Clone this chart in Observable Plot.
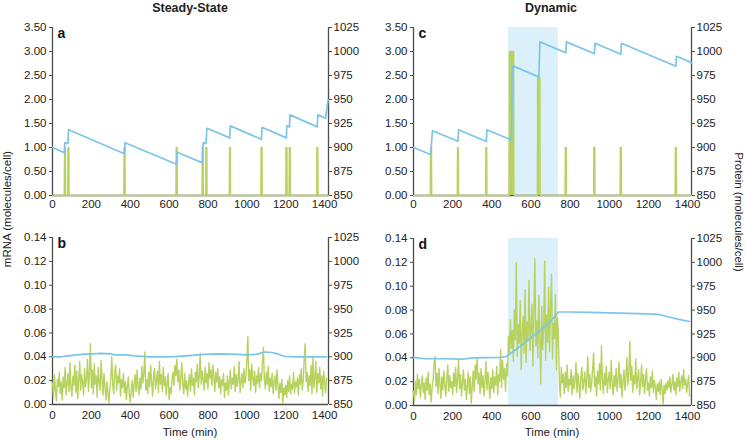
<!DOCTYPE html>
<html><head><meta charset="utf-8">
<script src="https://cdn.jsdelivr.net/npm/d3@7"></script>
<script src="https://cdn.jsdelivr.net/npm/@observablehq/plot@0.6"></script>
<style>
body{margin:0;background:#fff;}
#chart{position:relative;width:746px;height:440px;overflow:hidden;font-family:"Liberation Sans",Arial,sans-serif;color:#222;background:#fff;}
.pl{position:absolute;}
.lbl{position:absolute;white-space:nowrap;font-size:11.5px;transform:translate(-50%,-50%);}
.ttl{position:absolute;white-space:nowrap;font-weight:bold;font-size:12.5px;transform:translate(-50%,-50%);}
</style></head><body><div id="chart"></div>
<script>
// ---------- data ----------
const panelTitles = ["Steady-State", "Dynamic"];
const timeTicks = [0, 200, 400, 600, 800, 1000, 1200, 1400];
const mRNATicksTop = [0, 0.5, 1, 1.5, 2, 2.5, 3, 3.5];
const mRNATicksBottom = [0, 0.02, 0.04, 0.06, 0.08, 0.1, 0.12, 0.14];
const proteinTicks = [850, 875, 900, 925, 950, 975, 1000, 1025];
const inductionWindow = [485, 740];

// panel a: mRNA bursts (start, end, level) and protein
const burstOnA  = [61, 79, 368, 636, 770, 789, 910, 1073, 1201, 1218, 1360];
const burstOffA = [67, 85, 374, 642, 776, 795, 916, 1079, 1207, 1224, 1366];
const burstLvlA = [1, 1, 1, 1, 1, 1, 1, 1, 1, 1, 1];
const protTimeA = [0, 61, 63, 79, 83, 370, 373, 638, 641, 772, 775, 790, 794, 912, 915, 1075, 1078, 1203, 1206, 1219, 1222, 1362, 1365, 1405, 1418];
const protValA  = [900, 894.5, 905, 904, 918.5, 893.5, 905, 882.5, 895, 884, 905, 904, 920, 910, 922.5, 908.5, 921, 910, 922.5, 921.5, 934, 921.5, 934, 930.5, 950];

// panel c: mRNA bursts and protein
const burstOnC  = [86, 224, 369, 489, 633, 775, 921, 1056, 1337];
const burstOffC = [93, 230, 375, 513, 647, 781, 927, 1062, 1343];
const burstLvlC = [1, 1, 1, 3, 2.45, 1, 1, 1, 1];
const protTimeC = [0, 89, 91, 97, 227, 230, 372, 375, 500, 507, 640, 646, 778, 781, 924, 927, 1059, 1062, 1340, 1343, 1420];
const protValC  = [900, 892.5, 902.5, 917.5, 906.5, 918.5, 906.3, 918.5, 907.8, 985, 973.6, 1010, 998.7, 1010, 997.6, 1008.5, 997.2, 1008.5, 984.7, 995, 988.4];

// panels b, d: mRNA sampled every 5 min from 0 to 1410
const sampleStart = 0, sampleStep = 5;
const mRNAB = [
0.018,0.006,0.025,0.012,0.003,0.021,0.015,0.027,0.009,0.019,0.004,0.023,0.014,0.031,0.008,0.017,0.026,0.011,0.035,0.013,
0.007,0.024,0.016,0.033,0.010,0.028,0.005,0.020,0.036,0.012,0.025,0.018,0.008,0.030,0.015,0.022,0.038,0.011,0.027,0.051,
0.014,0.029,0.009,0.034,0.017,0.024,0.006,0.031,0.019,0.012,0.037,0.021,0.008,0.026,0.015,0.004,0.019,0.010,0.001,0.013,
0.022,0.040,0.016,0.009,0.027,0.033,0.012,0.024,0.018,0.030,0.007,0.021,0.014,0.026,0.010,0.019,0.004,0.015,0.023,0.008,
0.002,0.012,0.020,0.006,0.017,0.025,0.011,0.029,0.016,0.008,0.022,0.013,0.032,0.018,0.026,0.044,0.012,0.021,0.009,0.027,
0.015,0.033,0.019,0.007,0.024,0.030,0.013,0.020,0.028,0.010,0.036,0.017,0.025,0.011,0.031,0.016,0.023,0.008,0.019,0.026,
0.004,0.014,0.009,0.021,0.027,0.016,0.033,0.024,0.038,0.019,0.029,0.012,0.022,0.035,0.017,0.009,0.026,0.013,0.020,0.007,
0.018,0.025,0.011,0.030,0.016,0.022,0.008,0.027,0.019,0.034,0.014,0.024,0.043,0.017,0.028,0.021,0.012,0.031,0.018,0.026,
0.013,0.035,0.022,0.029,0.016,0.033,0.024,0.011,0.027,0.019,0.030,0.014,0.023,0.009,0.021,0.016,0.026,0.006,0.018,0.012,
0.024,0.008,0.019,0.029,0.013,0.022,0.017,0.032,0.011,0.025,0.015,0.021,0.036,0.010,0.019,0.026,0.014,0.030,0.018,0.023,
0.037,0.057,0.020,0.029,0.012,0.034,0.022,0.016,0.028,0.010,0.024,0.018,0.031,0.014,0.026,0.020,0.035,0.048,0.021,0.013,
0.027,0.017,0.032,0.011,0.022,0.015,0.026,0.009,0.019,0.024,0.012,0.029,0.016,0.005,0.018,0.010,0.021,0.001,0.014,0.008,
0.016,0.006,0.020,0.011,0.024,0.009,0.017,0.013,0.027,0.010,0.019,0.015,0.022,0.008,0.025,0.017,0.030,0.012,0.020,0.038,
0.051,0.019,0.027,0.011,0.024,0.016,0.033,0.009,0.040,0.014,0.022,0.036,0.010,0.026,0.018,0.031,0.013,0.024,0.007,0.028,
0.019,0.010,0.022];
const mRNAD = [
0.012,0.004,0.020,0.009,0.026,0.014,0.022,0.007,0.017,0.025,0.011,0.019,0.005,0.023,0.013,0.028,0.009,0.018,0.003,0.015,
0.021,0.036,0.041,0.016,0.027,0.010,0.031,0.018,0.006,0.024,0.013,0.029,0.017,0.008,0.022,0.034,0.012,0.025,0.015,0.020,
0.009,0.027,0.016,0.032,0.011,0.023,0.038,0.014,0.026,0.008,0.019,0.030,0.013,0.022,0.005,0.017,0.028,0.010,0.024,0.002,
0.016,0.029,0.012,0.034,0.022,0.040,0.018,0.027,0.010,0.031,0.015,0.025,0.008,0.021,0.037,0.013,0.028,0.019,0.006,0.023,
0.014,0.030,0.011,0.024,0.017,0.033,0.009,0.026,0.020,0.047,0.015,0.038,0.022,0.031,0.012,0.035,0.025,0.058,0.043,0.072,
0.048,0.063,0.037,0.080,0.055,0.120,0.041,0.068,0.052,0.088,0.030,0.061,0.075,0.044,0.097,0.036,0.070,0.054,0.105,0.046,
0.066,0.085,0.033,0.078,0.123,0.050,0.071,0.040,0.092,0.059,0.018,0.083,0.047,0.064,0.121,0.038,0.076,0.053,0.099,0.045,
0.082,0.110,0.039,0.069,0.056,0.093,0.030,0.074,0.061,0.020,0.007,0.032,0.019,0.026,0.010,0.028,0.015,0.034,0.012,0.022,
0.017,0.030,0.009,0.025,0.014,0.021,0.036,0.011,0.027,0.018,0.006,0.024,0.032,0.013,0.020,0.028,0.010,0.023,0.041,0.015,
0.026,0.012,0.019,0.031,0.044,0.016,0.024,0.008,0.029,0.018,0.035,0.013,0.050,0.022,0.010,0.027,0.017,0.033,0.011,0.021,
0.028,0.014,0.038,0.019,0.009,0.025,0.016,0.031,0.012,0.022,0.036,0.015,0.026,0.007,0.020,0.030,0.013,0.024,0.040,0.017,
0.027,0.054,0.021,0.033,0.011,0.025,0.018,0.039,0.014,0.023,0.030,0.009,0.020,0.034,0.016,0.026,0.010,0.022,0.031,0.013,
0.019,0.008,0.024,0.015,0.029,0.011,0.021,0.016,0.005,0.018,0.012,0.020,0.009,0.022,0.014,0.001,0.017,0.010,0.019,0.013,
0.021,0.015,0.024,0.011,0.018,0.026,0.013,0.020,0.009,0.023,0.016,0.028,0.012,0.019,0.025,0.014,0.030,0.017,0.022,0.011,
0.018,0.025,0.008];
const protTimeB = [0, 40, 100, 150, 200, 250, 300, 320, 380, 420, 500, 600, 650, 720, 780, 850, 950, 1000, 1050, 1090, 1130, 1160, 1190, 1250, 1410];
const protValB  = [900, 900, 901.5, 902.5, 903, 903.5, 903, 902, 902, 901, 900, 900, 900.5, 901.5, 902.5, 903, 902.5, 902, 902.5, 905, 904.5, 903, 900.5, 900, 900];
const protTimeD = [0, 60, 150, 250, 300, 450, 475, 500, 550, 600, 650, 700, 740, 800, 900, 1000, 1100, 1200, 1250, 1300, 1350, 1410];
const protValD  = [900.5, 899, 899, 898.5, 900, 900.5, 901.5, 905, 913, 921, 929, 938, 948, 948, 947.5, 947, 946.5, 946, 945.5, 943, 940.5, 938];

// ---------- helpers ----------
const X_MAX = 1420, P0 = 850;
const GREEN = "#b7d25e", BLUE = "#7cc5e8", SHADE = "#dcf0fb", AXIS = "#4d4d4d";

function burstSeries(on, off, lvl) {
  const pts = [{t: 0, m: 0}];
  on.forEach((s, i) => {
    pts.push({t: s, m: 0}, {t: s + 1, m: lvl[i]}, {t: off[i] - 1, m: lvl[i]}, {t: off[i], m: 0});
  });
  pts.push({t: X_MAX, m: 0});
  return pts;
}
const sampled = vals => vals.map((m, i) => ({t: sampleStart + i * sampleStep, m}));
const zipProt = (ts, ps) => ts.map((t, i) => ({t, p: ps[i]}));

function panel(o) {
  const marks = [];
  if (o.shade) marks.push(Plot.rect([o.shade], {x1: d => d[0], x2: d => d[1], y1: () => 0, y2: () => o.yMax, fill: SHADE}));
  marks.push(Plot.ruleX([0, X_MAX], {stroke: AXIS, strokeWidth: 1.3}));
  marks.push(Plot.ruleY([0], {stroke: AXIS, strokeWidth: 1.3}));
  if (o.fillGreen) marks.push(Plot.areaY(o.green, {x: "t", y: "m", fill: GREEN}));
  marks.push(Plot.line(o.green, {x: "t", y: "m", stroke: GREEN, strokeWidth: o.gw}));
  marks.push(Plot.line(o.prot, {x: "t", y: d => (d.p - P0) / o.k, stroke: BLUE, strokeWidth: 1.7}));
  marks.push(Plot.axisY(o.ticks, {anchor: "left", tickSize: 3, tickPadding: 3, tickFormat: d => d.toFixed(2), label: null, stroke: AXIS}));
  marks.push(Plot.axisY(proteinTicks.map(p => (p - P0) / o.k), {anchor: "right", tickSize: 3, tickPadding: 2, tickFormat: v => String(Math.round(P0 + v * o.k)), label: null, stroke: AXIS}));
  marks.push(Plot.axisX(timeTicks, {anchor: "bottom", tickSize: 0, tickPadding: o.xPad, tickFormat: d => String(d), label: null}));
  marks.push(Plot.text([o.letter], {frameAnchor: "top-left", dx: 5, dy: 1, fontWeight: "bold", fontSize: 14, fill: "#111"}));
  const svg = Plot.plot({
    width: 373, height: 220,
    marginLeft: o.ml, marginRight: o.mr, marginTop: o.mt, marginBottom: o.mb,
    x: {domain: [0, X_MAX]},
    y: {domain: [0, o.yMax]},
    style: {fontFamily: '"Liberation Sans", Arial, sans-serif', fontSize: "11.5px", color: "#222", background: "transparent"},
    marks
  });
  const wrap = document.createElement("div");
  wrap.className = "pl";
  wrap.style.left = o.left + "px";
  wrap.style.top = o.top + "px";
  wrap.appendChild(svg);
  return wrap;
}

const chart = document.getElementById("chart");
chart.appendChild(panel({letter: "a", left: 0, top: 0, ml: 52, mr: 45, mt: 27, mb: 25, yMax: 3.5, ticks: mRNATicksTop, k: 50, xPad: 4, gw: 1.4, fillGreen: true,
  green: burstSeries(burstOnA, burstOffA, burstLvlA), prot: zipProt(protTimeA, protValA)}));
chart.appendChild(panel({letter: "c", left: 373, top: 0, ml: 40, mr: 55, mt: 27, mb: 25, yMax: 3.5, ticks: mRNATicksTop, k: 50, xPad: 4, gw: 1.4, fillGreen: true,
  shade: inductionWindow, green: burstSeries(burstOnC, burstOffC, burstLvlC), prot: zipProt(protTimeC, protValC)}));
chart.appendChild(panel({letter: "b", left: 0, top: 220, ml: 52, mr: 45, mt: 17, mb: 36, yMax: 0.14, ticks: mRNATicksBottom, k: 1250, xPad: 6, gw: 1.4,
  green: sampled(mRNAB), prot: zipProt(protTimeB, protValB)}));
chart.appendChild(panel({letter: "d", left: 373, top: 220, ml: 40, mr: 55, mt: 18, mb: 35, yMax: 0.14, ticks: mRNATicksBottom, k: 1250, xPad: 6, gw: 1.4,
  shade: inductionWindow, green: sampled(mRNAD), prot: zipProt(protTimeD, protValD)}));

function addText(cls, txt, x, y, rot) {
  const d = document.createElement("div");
  d.className = cls;
  d.textContent = txt;
  d.style.left = x + "px";
  d.style.top = y + "px";
  if (rot) d.style.transform = `translate(-50%,-50%) rotate(${rot}deg)`;
  chart.appendChild(d);
}
addText("ttl", panelTitles[0], 190, 8);
addText("ttl", panelTitles[1], 551, 8);
addText("lbl", "mRNA (molecules/cell)", 7, 209, -90);
addText("lbl", "Protein (molecules/cell)", 739, 212, 90);
addText("lbl", "Time (min)", 190, 432);
addText("lbl", "Time (min)", 552, 432);
</script></body></html>
